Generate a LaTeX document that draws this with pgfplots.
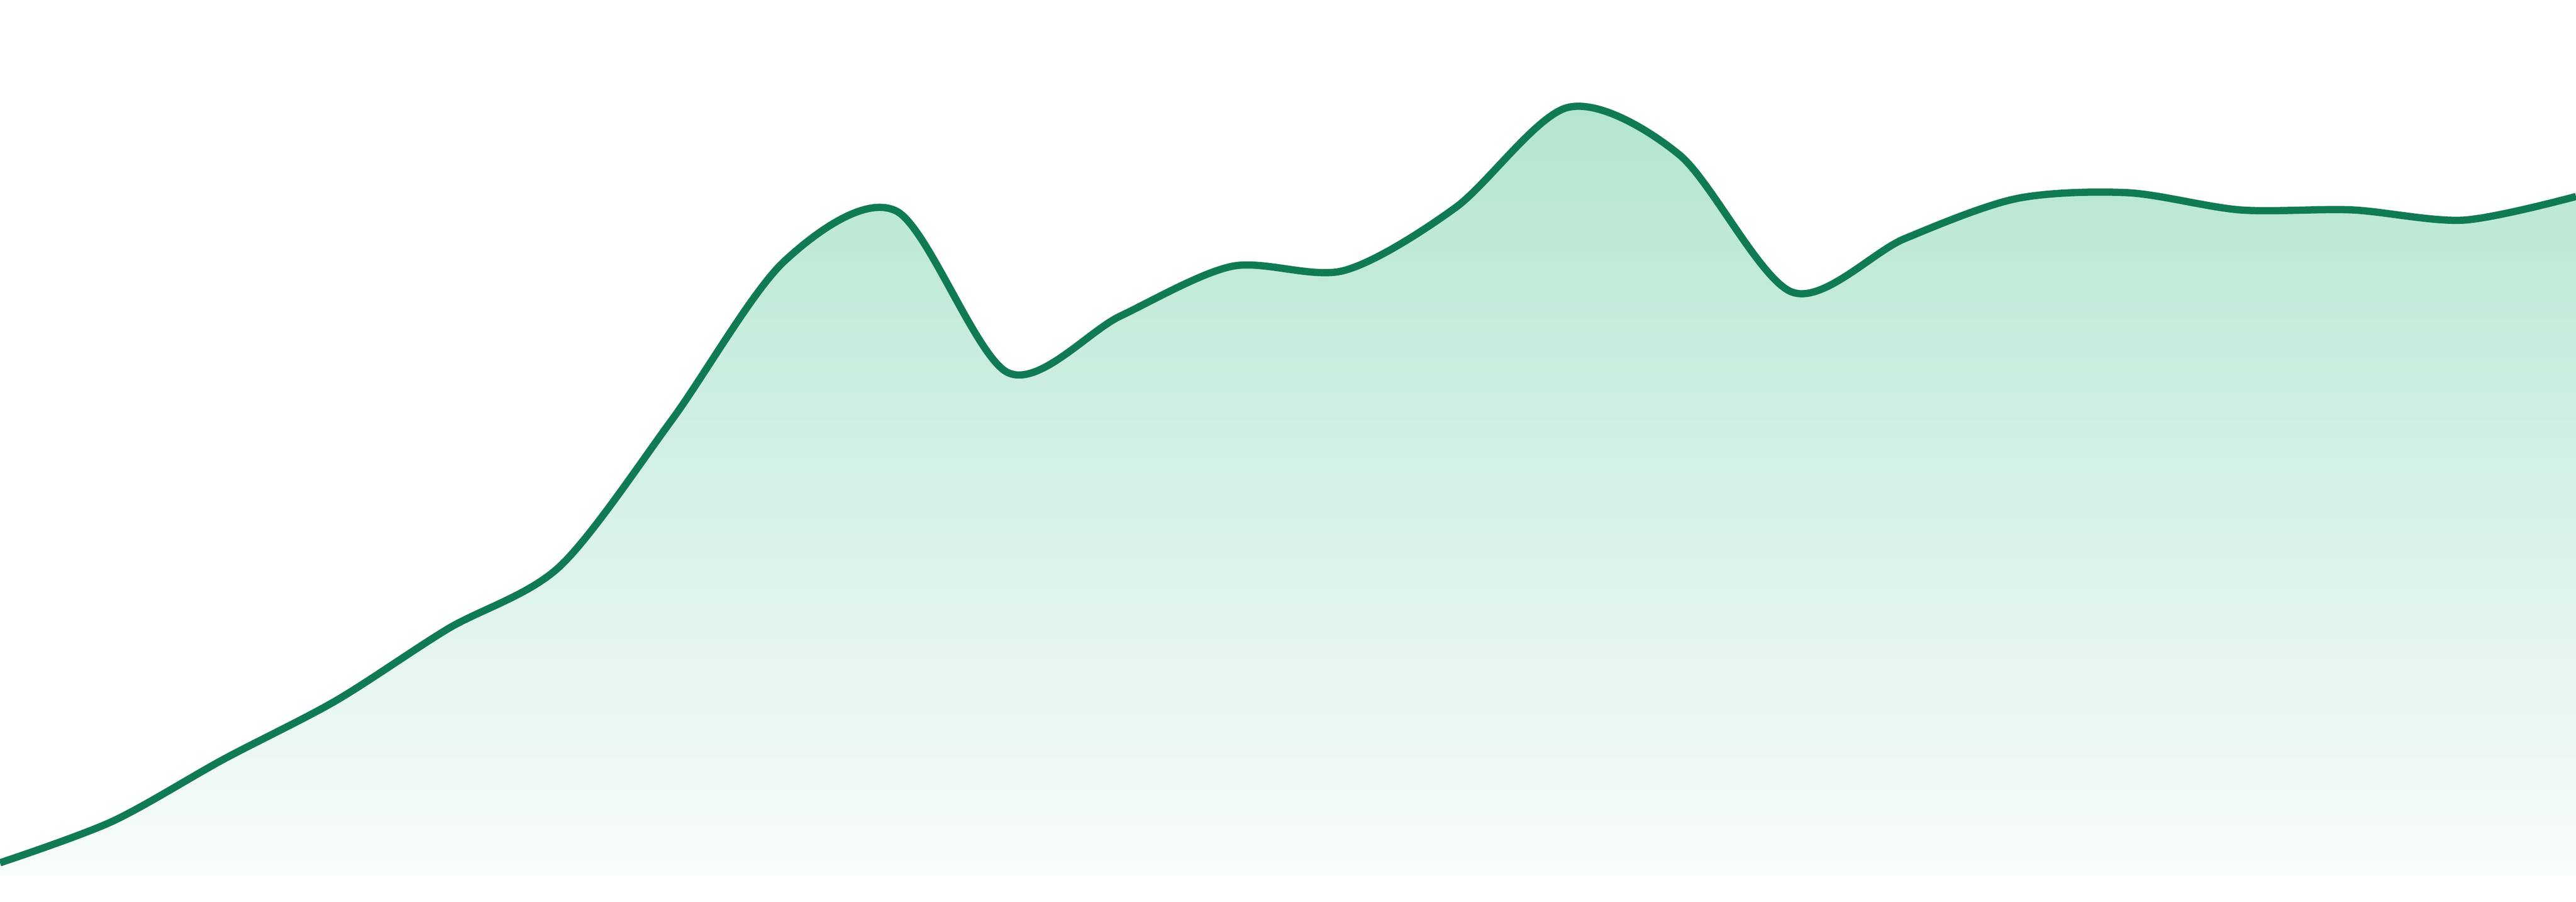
\documentclass[border=0pt]{standalone}
\usepackage{pgfplots}
\pgfplotsset{compat=1.18}

\definecolor{linegreen}{HTML}{107B52}
\definecolor{filltop}{HTML}{B2E5CF}
\definecolor{fillbottom}{HTML}{F8FCFB}

\pgfplotstableread{
x     v
0     23
209   100
417   216
626   325
835   459
1043  575
1252  848
1461  1143
1670  1237
1878  936
2087  1041
2296  1134
2504  1126
2713  1244
2922  1430
3130  1341
3339  1086
3548  1185
3757  1260
3965  1271
4174  1239
4383  1239
4591  1220
4800  1264
}\series

\begin{document}
\begin{tikzpicture}
\begin{axis}[
  scale only axis,
  width=480pt, height=168pt,
  xmin=0, xmax=4800,
  ymin=-50, ymax=1630,
  hide axis,
]
\addplot[draw=none, top color=filltop, bottom color=fillbottom, smooth]
  table[x=x, y=v] {\series} \closedcycle;
\addplot[linegreen, line width=1.35pt, smooth, line join=round]
  table[x=x, y=v] {\series};
\end{axis}
\pgfresetboundingbox
\useasboundingbox (current axis.south west) rectangle (current axis.north east);
\end{tikzpicture}
\end{document}
